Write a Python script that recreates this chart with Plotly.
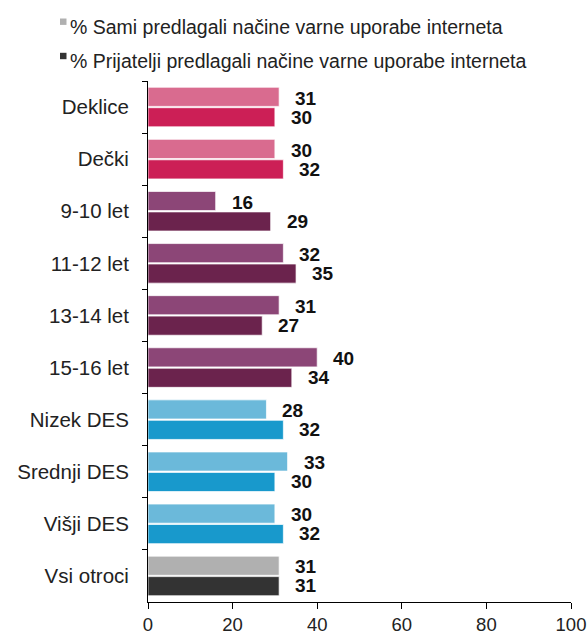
import plotly.graph_objects as go

# Categories (top to bottom) and the two survey measures, in percent
categories = ["Deklice", "Dečki", "9-10 let", "11-12 let", "13-14 let",
              "15-16 let", "Nizek DES", "Srednji DES", "Višji DES", "Vsi otroci"]
sami = [31, 30, 16, 32, 31, 40, 28, 33, 30, 31]
prijatelji = [30, 32, 29, 35, 27, 34, 32, 30, 32, 31]

series_names = ["% Sami predlagali načine varne uporabe interneta",
                "% Prijatelji predlagali načine varne uporabe interneta"]
x_ticks = [0, 20, 40, 60, 80, 100]

# Colour families: gender, age, socio-economic status, total
light_colors = ["#d96b8f", "#d96b8f", "#8c4677", "#8c4677", "#8c4677", "#8c4677",
                "#6bb9da", "#6bb9da", "#6bb9da", "#b0b0b0"]
dark_colors = ["#cc1f56", "#cc1f56", "#6b234d", "#6b234d", "#6b234d", "#6b234d",
               "#1899cc", "#1899cc", "#1899cc", "#333333"]
legend_colors = ["#b0b0b0", "#333333"]

FONT = "Liberation Sans, Arial, sans-serif"
W, H = 587, 637
ML, MR, MT, MB = 148, 16, 81, 35
PW, PH = W - ML - MR, H - MT - MB


def px_x(px):
    """Horizontal pixel position -> paper coordinate."""
    return (px - ML) / PW


def px_y(py):
    """Vertical pixel position (from top) -> paper coordinate."""
    return (H - MB - py) / PH


fig = go.Figure()

bar_line = dict(color="rgba(255,255,255,0.7)", width=1)
fig.add_trace(go.Bar(y=categories, x=sami, orientation="h", name=series_names[0],
                     marker=dict(color=light_colors, line=bar_line),
                     showlegend=False, hoverinfo="skip"))
fig.add_trace(go.Bar(y=categories, x=prijatelji, orientation="h", name=series_names[1],
                     marker=dict(color=dark_colors, line=bar_line),
                     showlegend=False, hoverinfo="skip"))

# Value labels to the right of each bar
label_font = dict(family=FONT, size=19, color="#111111", weight="bold")
for cat, a, b in zip(categories, sami, prijatelji):
    fig.add_annotation(x=a, y=cat, text=str(a), showarrow=False, xanchor="left",
                       xshift=14, yshift=9, font=label_font)
    fig.add_annotation(x=b, y=cat, text=str(b), showarrow=False, xanchor="left",
                       xshift=14, yshift=-10, font=label_font)

# Legend above the plot: small square swatch followed by the series name
legend_rows = [21.7, 56.0]
for name, col, row in zip(series_names, legend_colors, legend_rows):
    fig.add_shape(type="rect", xref="paper", yref="paper",
                  x0=px_x(60), x1=px_x(66.5), y0=px_y(row + 3.2), y1=px_y(row - 3.2),
                  fillcolor=col, line=dict(width=0))
    fig.add_annotation(xref="paper", yref="paper", x=px_x(68), y=px_y(row + 5.5),
                       text=name, showarrow=False, xanchor="left", yanchor="middle",
                       font=dict(family=FONT, size=19.5, color="#222222"))

fig.update_layout(
    width=W, height=H,
    margin=dict(l=ML, r=MR, t=MT, b=MB, autoexpand=False),
    paper_bgcolor="white", plot_bgcolor="white",
    barmode="group", bargap=0.215, bargroupgap=0.065,
    showlegend=False,
    font=dict(family=FONT, size=20, color="#222222"),
    xaxis=dict(range=[0, 100], tickvals=x_ticks,
               showgrid=False, zeroline=False, showline=True, linecolor="black",
               linewidth=1, ticks="outside", ticklen=6, tickcolor="black",
               ticklabelstandoff=0, ticklabeloverflow="allow",
               tickfont=dict(family=FONT, size=18.5, color="#222222")),
    yaxis=dict(autorange="reversed", showgrid=False, showline=True,
               linecolor="black", linewidth=1, ticks="outside", ticklen=5,
               tickcolor="black", tickson="boundaries", ticklabelstandoff=14,
               tickfont=dict(family=FONT, size=20.5, color="#222222")),
)

fig.write_html("out.html")
